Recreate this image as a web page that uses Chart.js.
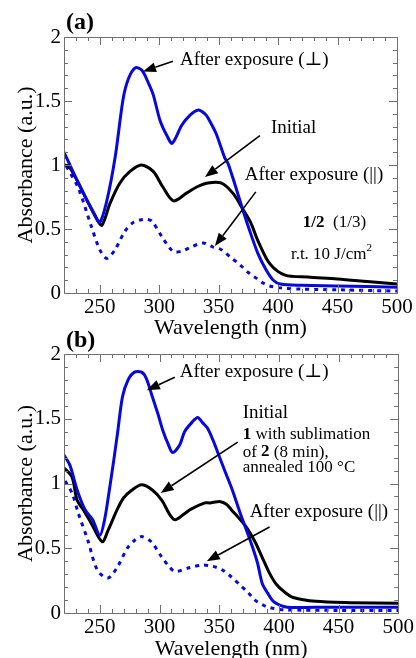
<!DOCTYPE html>
<html>
<head>
<meta charset="utf-8">
<script src="https://cdn.jsdelivr.net/npm/chart.js@4.4.0/dist/chart.umd.min.js"></script>
<style>
  html, body { margin: 0; padding: 0; background: #fff; }
  .panel { position: absolute; left: 0; width: 416px; }
  #panelA { top: 0; height: 345px; }
  #panelB { top: 330px; height: 328px; }
</style>
</head>
<body>
<div class="panel" id="panelA"><canvas id="chartA"></canvas></div>
<div class="panel" id="panelB"><canvas id="chartB"></canvas></div>
<script>
// --- Data: wavelength (nm) / absorbance (a.u.) ---

// Panel (a)
const aPerpNm  = [220, 223, 231, 239, 246, 250, 256, 263, 269.6, 274, 280, 285.5, 291, 295, 300.7, 306.5, 311, 319, 326, 333, 338.5, 341, 347.7, 355, 358, 364, 370, 376, 383, 390, 396, 402, 420, 450, 500];
const aPerpAbs = [1.10, 1.04, 0.88, 0.73, 0.61, 0.55, 0.72, 1.06, 1.51, 1.67, 1.76, 1.74, 1.64, 1.55, 1.35, 1.23, 1.17, 1.31, 1.39, 1.43, 1.40, 1.37, 1.25, 1.06, 1.01, 0.84, 0.66, 0.49, 0.31, 0.18, 0.10, 0.07, 0.06, 0.055, 0.045];

const aInitNm  = [220, 224, 231, 239, 248, 252, 258.7, 267, 275.5, 285, 295, 303, 312, 323, 332, 341, 352, 362, 370, 377, 383, 393, 406, 425, 450, 475, 500];
const aInitAbs = [1.00, 0.99, 0.88, 0.73, 0.57, 0.53, 0.70, 0.86, 0.95, 1.00, 0.95, 0.83, 0.72, 0.78, 0.83, 0.86, 0.86, 0.78, 0.66, 0.55, 0.41, 0.23, 0.14, 0.125, 0.11, 0.09, 0.07];

const aParNm   = [222, 232, 243, 250, 256, 263, 271, 278, 284, 290, 294, 303, 309, 313, 320, 327, 337, 345, 352, 360, 368, 375, 381, 387, 393, 402, 420, 450, 500];
const aParAbs  = [0.99, 0.82, 0.52, 0.34, 0.27, 0.34, 0.48, 0.55, 0.57, 0.575, 0.56, 0.43, 0.35, 0.32, 0.33, 0.36, 0.39, 0.36, 0.34, 0.28, 0.22, 0.16, 0.12, 0.08, 0.055, 0.04, 0.03, 0.025, 0.015];

// Panel (b)
const bPerpNm  = [220, 225, 231, 237.5, 244, 250, 254, 258, 262, 265, 269, 273.7, 279, 285, 289, 294, 298.6, 302.8, 307, 311, 317, 321, 327, 332, 336, 340, 344.6, 348.8, 354.6, 361, 368, 376, 382, 386, 390.5, 396, 407, 430, 500];
const bPerpAbs = [1.22, 1.14, 0.95, 0.80, 0.72, 0.60, 0.72, 0.95, 1.20, 1.40, 1.67, 1.80, 1.86, 1.86, 1.81, 1.67, 1.54, 1.41, 1.31, 1.24, 1.30, 1.40, 1.47, 1.51, 1.47, 1.43, 1.34, 1.24, 1.10, 0.95, 0.76, 0.56, 0.39, 0.23, 0.155, 0.085, 0.045, 0.045, 0.045];

const bInitNm  = [220, 226.7, 231, 236, 243, 252, 257, 264.6, 270, 277, 285, 294, 302, 308.6, 313, 320, 326, 338, 342, 351, 356, 360, 373, 380, 386, 392, 398, 405, 412, 431, 460, 500];
const bInitAbs = [1.12, 1.05, 0.87, 0.80, 0.69, 0.55, 0.64, 0.80, 0.89, 0.95, 0.99, 0.95, 0.87, 0.76, 0.72, 0.76, 0.80, 0.85, 0.85, 0.86, 0.84, 0.80, 0.66, 0.55, 0.43, 0.31, 0.22, 0.16, 0.12, 0.09, 0.08, 0.075];

const bParNm   = [221, 227, 232, 240, 248, 257, 265, 273, 279, 285, 293, 302, 308, 313, 325, 336, 345, 353, 360, 367, 374, 380, 387, 393, 404, 450, 500];
const bParAbs  = [1.02, 0.92, 0.77, 0.56, 0.33, 0.27, 0.36, 0.50, 0.56, 0.59, 0.55, 0.43, 0.36, 0.32, 0.35, 0.37, 0.36, 0.33, 0.28, 0.22, 0.16, 0.10, 0.06, 0.04, 0.025, 0.02, 0.02];

// Axis ticks
const xTickValues = [250, 300, 350, 400, 450, 500];
const yTickValues = [0, 0.5, 1, 1.5, 2];

// --- Styling ---
const SERIF = "'Liberation Serif', 'Times New Roman', 'DejaVu Serif', serif";
const BLUE = '#0808dc';
const AXIS_GRAY = '#707070';

function pts(xs, ys) {
    return xs.map((x, i) => ({ x: x, y: ys[i] }));
}

// Inward tick marks on all four sides plus the box around the plot
const boxTicks = {
    id: 'boxTicks',
    afterDatasetsDraw(chart) {
        const { ctx, chartArea: a, scales: { x, y } } = chart;
        ctx.save();
        ctx.strokeStyle = AXIS_GRAY;
        ctx.lineWidth = 1;
        ctx.beginPath();
        for (let v = 230; v < 500; v += 10) {
            const px = Math.round(x.getPixelForValue(v)) + 0.5;
            const len = v % 50 === 0 ? 8 : 4;
            ctx.moveTo(px, a.top); ctx.lineTo(px, a.top + len);
            ctx.moveTo(px, a.bottom); ctx.lineTo(px, a.bottom - len);
        }
        for (let i = 1; i < 20; i++) {
            const py = Math.round(y.getPixelForValue(i / 10)) + 0.5;
            const len = i % 5 === 0 ? 8 : 4;
            ctx.moveTo(a.left, py); ctx.lineTo(a.left + len, py);
            ctx.moveTo(a.right, py); ctx.lineTo(a.right - len, py);
        }
        ctx.stroke();
        ctx.strokeRect(Math.round(a.left) + 0.5, Math.round(a.top) + 0.5,
            Math.round(a.right - a.left), Math.round(a.bottom - a.top));
        ctx.restore();
    }
};

// Text labels and arrows, positioned in data units
const notes = {
    id: 'notes',
    afterDraw(chart, args, opts) {
        const { ctx, chartArea: a, scales: { x, y } } = chart;
        ctx.save();
        ctx.fillStyle = '#000';
        ctx.strokeStyle = '#000';
        ctx.textBaseline = 'middle';
        ctx.textAlign = 'left';

        // panel letter
        ctx.font = 'bold 24px ' + SERIF;
        ctx.fillText(opts.letter, a.left + 2, a.top + opts.letterDy);

        (opts.labels || []).forEach(l => {
            let px = x.getPixelForValue(l.x);
            const py = y.getPixelForValue(l.y);
            l.parts.forEach(p => {
                const size = p.sup ? Math.round(l.size * 0.62) : l.size;
                ctx.font = (p.b ? 'bold ' : '') + size + 'px ' + SERIF;
                ctx.fillText(p.t, px, p.sup ? py - l.size * 0.38 : py);
                px += ctx.measureText(p.t).width;
            });
        });

        ctx.lineWidth = 1.6;
        (opts.arrows || []).forEach(ar => {
            const x0 = x.getPixelForValue(ar.from[0]), y0 = y.getPixelForValue(ar.from[1]);
            const x1 = x.getPixelForValue(ar.to[0]), y1 = y.getPixelForValue(ar.to[1]);
            const ang = Math.atan2(y1 - y0, x1 - x0);
            const headLen = 13, headW = 5;
            const bx = x1 - headLen * Math.cos(ang), by = y1 - headLen * Math.sin(ang);
            ctx.beginPath();
            ctx.moveTo(x0, y0);
            ctx.lineTo(bx, by);
            ctx.stroke();
            ctx.beginPath();
            ctx.moveTo(x1, y1);
            ctx.lineTo(bx + headW * Math.sin(ang), by - headW * Math.cos(ang));
            ctx.lineTo(bx - headW * Math.sin(ang), by + headW * Math.cos(ang));
            ctx.closePath();
            ctx.fill();
        });
        ctx.restore();
    }
};

function makeChart(canvasId, series, layout, noteOpts) {
    const ctx = document.getElementById(canvasId).getContext('2d');
    return new Chart(ctx, {
        type: 'line',
        data: {
            datasets: [
                { label: 'After exposure (⊥)', data: pts(series.perp[0], series.perp[1]),
                  borderColor: BLUE, borderWidth: 3 },
                { label: 'Initial', data: pts(series.init[0], series.init[1]),
                  borderColor: '#000', borderWidth: 3 },
                { label: 'After exposure (||)', data: pts(series.par[0], series.par[1]),
                  borderColor: BLUE, borderWidth: 3, borderDash: [4, 5] }
            ]
        },
        options: {
            responsive: true,
            maintainAspectRatio: false,
            animation: false,
            layout: { padding: { top: layout.top, right: layout.right, left: 0, bottom: 0 } },
            elements: {
                point: { radius: 0 },
                line: { tension: 0.3, fill: false }
            },
            plugins: {
                legend: { display: false },
                tooltip: { enabled: false },
                notes: noteOpts
            },
            scales: {
                x: {
                    type: 'linear',
                    min: 220,
                    max: 500,
                    grid: { display: false, drawTicks: false },
                    border: { display: false },
                    ticks: { autoSkip: false, padding: 2, color: '#000',
                             font: { family: SERIF, size: 21 } },
                    afterBuildTicks: s => { s.ticks = xTickValues.map(v => ({ value: v })); },
                    afterFit: s => { s.height = layout.xHeight; },
                    title: { display: true, text: 'Wavelength (nm)', color: '#000',
                             font: { family: SERIF, size: 22 },
                             padding: { top: 0, bottom: layout.xTitlePad } }
                },
                y: {
                    min: 0,
                    max: 2,
                    grid: { display: false, drawTicks: false },
                    border: { display: false },
                    ticks: { padding: 3, color: '#000',
                             font: { family: SERIF, size: 21 },
                             callback: v => String(v) },
                    afterBuildTicks: s => { s.ticks = yTickValues.map(v => ({ value: v })); },
                    afterFit: s => { s.width = 64; },
                    title: { display: true, text: 'Absorbance (a.u.)', color: '#000',
                             font: { family: SERIF, size: 22 },
                             padding: { top: 13, bottom: 0 } }
                }
            }
        },
        plugins: [boxTicks, notes]
    });
}

makeChart('chartA',
    { perp: [aPerpNm, aPerpAbs], init: [aInitNm, aInitAbs], par: [aParNm, aParAbs] },
    { top: 37, right: 19, xHeight: 52, xTitlePad: 4 },
    {
        letter: '(a)', letterDy: -14,
        labels: [
            { x: 317.5, y: 1.82, size: 19, parts: [{ t: 'After exposure (⊥)' }] },
            { x: 394, y: 1.29, size: 19, parts: [{ t: 'Initial' }] },
            { x: 372, y: 0.92, size: 19, parts: [{ t: 'After exposure (||)' }] },
            { x: 420.8, y: 0.547, size: 17, parts: [{ t: '1/2', b: true }, { t: '  (1/3)' }] },
            { x: 410.8, y: 0.30, size: 17, parts: [{ t: 'r.t. 10 J/cm' }, { t: '2', sup: true }] }
        ],
        arrows: [
            { from: [311.6, 1.81], to: [286.4, 1.73] },
            { from: [384.7, 1.23], to: [338.5, 0.906] },
            { from: [381.3, 0.79], to: [346.9, 0.367] }
        ]
    });

makeChart('chartB',
    { perp: [bPerpNm, bPerpAbs], init: [bInitNm, bInitAbs], par: [bParNm, bParAbs] },
    { top: 24, right: 17, xHeight: 45, xTitlePad: -4 },
    {
        letter: '(b)', letterDy: -13,
        labels: [
            { x: 317, y: 1.86, size: 19, parts: [{ t: 'After exposure (⊥)' }] },
            { x: 369.7, y: 1.545, size: 19, parts: [{ t: 'Initial' }] },
            { x: 369.7, y: 1.375, size: 17, parts: [{ t: '1', b: true }, { t: ' with sublimation' }] },
            { x: 369.7, y: 1.243, size: 17, parts: [{ t: 'of ' }, { t: '2', b: true }, { t: ' (8 min),' }] },
            { x: 369.7, y: 1.12, size: 17, parts: [{ t: 'annealed 100 °C' }] },
            { x: 375.5, y: 0.78, size: 19, parts: [{ t: 'After exposure (||)' }] }
        ],
        arrows: [
            { from: [312.8, 1.82], to: [289.4, 1.72] },
            { from: [365.5, 1.32], to: [301, 0.927] },
            { from: [392.2, 0.664], to: [339.6, 0.40] }
        ]
    });
</script>
</body>
</html>
